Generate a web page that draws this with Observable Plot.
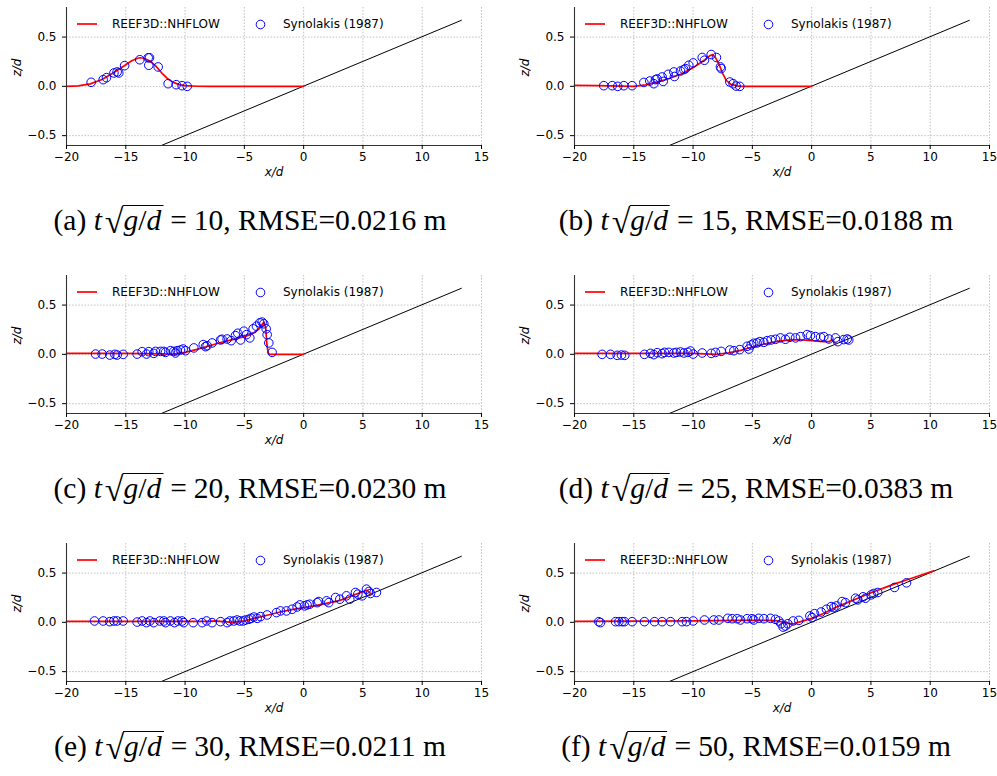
<!DOCTYPE html>
<html>
<head>
<meta charset="utf-8">
<script src="https://cdn.jsdelivr.net/npm/d3@7"></script>
<script src="https://cdn.jsdelivr.net/npm/@observablehq/plot@0.6"></script>
<style>
  body { margin: 0; background: #fff; }
  #root { position: relative; width: 997px; height: 776px; background: #fff; overflow: hidden; }
  .panel { position: absolute; }
  .legend { position: absolute; font-family: "DejaVu Sans", sans-serif; font-size: 12px; color: #000; }
  .caption { position: absolute; transform: translateX(-50%); white-space: nowrap;
    font-family: "Liberation Serif", serif; font-size: 29.5px; line-height: 30px; color: #000; }
  .rad { font-size: 1.15em; position: relative; top: 0.08em; margin-left: 3px; }
  .radicand { display: inline-block; line-height: 0.9em; border-top: 1.3px solid #000; padding: 1px 2px 0 1px; margin-left: -1px; }
  .eq { display: inline-block; margin: 0 7px; }
</style>
</head>
<body>
<div id="root"></div>
<script>
// ---------------- data ----------------
const xTicks = [-20, -15, -10, -5, 0, 5, 10, 15];
const yTicks = [-0.5, 0.0, 0.5];
const beachX = [-12.0, 13.3];
const beachZ = [-0.6, 0.67];

const labels = ["(a)", "(b)", "(c)", "(d)", "(e)", "(f)"];
const times = [10, 15, 20, 25, 30, 50];
const rmse = ["0.0216", "0.0188", "0.0230", "0.0383", "0.0211", "0.0159"];

// panel (a)
const modelA_x = [-20, -19, -18, -17, -16, -15, -14.5, -14, -13.8, -13.5, -13, -12.5, -12, -11.5, -11, -10.5, -10, -9, -8, 0];
const modelA_z = [0.0, 0.005, 0.025, 0.07, 0.14, 0.22, 0.26, 0.285, 0.29, 0.285, 0.26, 0.21, 0.14, 0.08, 0.04, 0.018, 0.007, 0.001, 0.0, 0.0];
const obsA_x = [-17.92, -16.91, -16.63, -16.0, -15.73, -15.59, -15.1, -13.82, -13.11, -13.0, -13.06, -12.27, -11.43, -10.75, -10.25, -9.82];
const obsA_z = [0.041, 0.068, 0.088, 0.136, 0.146, 0.136, 0.21, 0.27, 0.29, 0.29, 0.214, 0.197, 0.027, 0.017, 0.007, 0.0];

// panel (b)
const modelB_x = [-20, -18, -16, -15, -14, -13, -12, -11, -10, -9.5, -9, -8.6, -8.35, -8.1, -7.8, -7.5, -7.2, -6.8, -6.3, -6, 0];
const modelB_z = [0.01, 0.007, 0.003, 0.0, 0.015, 0.045, 0.08, 0.125, 0.19, 0.23, 0.27, 0.31, 0.322, 0.29, 0.22, 0.13, 0.06, 0.02, 0.005, 0.0, 0.0];
const obsB_x = [-17.53, -16.82, -16.35, -15.84, -15.14, -14.15, -13.65, -13.31, -13.17, -13.03, -12.61, -12.52, -12.1, -11.62, -11.57, -11.06, -10.78, -10.64, -10.36, -9.99, -9.23, -9.04, -8.47, -8.03, -7.69, -7.63, -6.9, -6.62, -6.37, -6.06];
const obsB_z = [0.007, 0.007, 0.0, 0.007, 0.007, 0.04, 0.054, 0.027, 0.068, 0.075, 0.095, 0.05, 0.122, 0.146, 0.10, 0.156, 0.17, 0.18, 0.214, 0.238, 0.293, 0.265, 0.323, 0.293, 0.197, 0.18, 0.044, 0.027, 0.003, 0.0];

// panel (c)
const modelC_x = [-20, -15, -12, -11, -10, -9, -8, -7, -6, -5, -4.5, -4, -3.6, -3.35, -3.2, -3.1, -3.0, -2.9, 0];
const modelC_z = [0.01, 0.01, 0.005, 0.003, 0.02, 0.05, 0.085, 0.12, 0.15, 0.18, 0.2, 0.235, 0.29, 0.327, 0.27, 0.1, 0.02, 0.0, 0.0];
const obsC_x = [-17.55, -16.99, -16.35, -15.92, -15.73, -15.22, -14.04, -13.62, -13.25, -13.06, -12.64, -12.5, -12.07, -11.79, -11.65, -11.23, -10.95, -10.81, -10.67, -10.39, -10.16, -9.96, -9.26, -8.47, -8.28, -8.14, -7.72, -7.01, -6.88, -6.45, -6.11, -5.75, -5.55, -5.32, -5.04, -4.82, -4.54, -4.26, -3.98, -3.7, -3.5, -3.36, -3.16, -3.08, -2.94, -2.66];
const obsC_z = [0.003, 0.003, -0.007, 0.0, -0.007, 0.0, 0.003, 0.027, 0.003, 0.027, 0.01, 0.03, 0.03, 0.03, 0.02, 0.037, 0.03, 0.014, 0.037, 0.044, 0.054, 0.037, 0.065, 0.099, 0.078, 0.088, 0.116, 0.146, 0.153, 0.156, 0.139, 0.19, 0.214, 0.146, 0.235, 0.2, 0.167, 0.259, 0.286, 0.32, 0.327, 0.31, 0.259, 0.2, 0.116, 0.02];

// panel (d)
const modelD_x = [-20, -10, -9, -8, -7, -6, -5, -4, -3, -2, -1, 0, 1, 1.5, 1.7, 1.9, 2.1];
const modelD_z = [0.01, 0.01, 0.005, 0.0, 0.015, 0.04, 0.075, 0.105, 0.13, 0.145, 0.15, 0.14, 0.13, 0.13, 0.15, 0.12, 0.11];
const obsD_x = [-17.67, -16.96, -16.4, -16.04, -15.76, -14.1, -13.59, -13.31, -13.03, -12.61, -12.41, -12.04, -11.62, -11.4, -11.06, -10.78, -10.44, -10.22, -9.99, -9.23, -8.47, -8.11, -7.63, -6.9, -6.56, -6.06, -5.44, -5.3, -5.1, -4.88, -4.6, -4.37, -4.03, -3.75, -3.42, -3.05, -2.63, -2.21, -1.84, -1.36, -0.94, -0.38, -0.1, 0.32, 0.75, 1.03, 1.45, 2.01, 2.21, 2.71, 3.0, 3.13];
const obsD_z = [0.0, 0.0, -0.01, -0.007, -0.01, 0.0, 0.01, -0.003, 0.017, 0.007, 0.02, 0.02, 0.014, 0.02, 0.024, 0.014, 0.02, 0.034, 0.003, 0.014, 0.01, 0.02, 0.03, 0.044, 0.037, 0.048, 0.082, 0.054, 0.095, 0.112, 0.116, 0.129, 0.122, 0.139, 0.146, 0.153, 0.167, 0.153, 0.173, 0.167, 0.18, 0.2, 0.19, 0.18, 0.173, 0.18, 0.156, 0.167, 0.129, 0.15, 0.156, 0.146];

// panel (e)
const modelE_x = [-20, -8, -7.5, -7, -6, -5, -4, -3, -2, -1, 0, 1, 2, 3, 4, 4.5, 5, 5.35, 5.64];
const modelE_z = [0.01, 0.01, 0.015, 0.01, 0.0, 0.015, 0.045, 0.075, 0.105, 0.13, 0.15, 0.17, 0.195, 0.22, 0.265, 0.29, 0.31, 0.328, 0.293];
const obsE_x = [-17.64, -16.91, -16.35, -16.0, -15.73, -15.22, -14.04, -13.62, -13.25, -12.97, -12.64, -12.13, -11.79, -11.65, -11.23, -10.89, -10.61, -10.25, -10.11, -9.32, -8.56, -8.19, -7.72, -7.01, -6.45, -6.23, -5.89, -5.61, -5.38, -5.1, -4.9, -4.62, -4.43, -4.2, -3.92, -3.64, -3.08, -2.29, -1.95, -1.45, -0.97, -0.55, -0.32, 0.07, 0.29, 0.51, 1.14, 1.28, 1.93, 2.12, 2.69, 3.05, 3.61, 3.89, 4.37, 4.57, 4.93, 5.3, 5.5, 5.64, 6.14];
const obsE_z = [0.014, 0.014, 0.007, 0.014, 0.014, 0.014, 0.003, 0.014, -0.003, 0.014, -0.003, 0.014, 0.014, -0.003, 0.014, -0.003, 0.014, 0.014, -0.003, -0.003, -0.003, 0.014, -0.003, 0.007, -0.003, 0.014, 0.014, 0.024, 0.014, 0.014, 0.024, 0.031, 0.041, 0.054, 0.041, 0.058, 0.075, 0.099, 0.116, 0.116, 0.133, 0.156, 0.177, 0.167, 0.177, 0.184, 0.2, 0.211, 0.218, 0.2, 0.252, 0.235, 0.269, 0.235, 0.303, 0.286, 0.269, 0.337, 0.313, 0.293, 0.303];

// panel (f)
const modelF_x = [-20, -10, -6, -4, -3, -2.5, -2, -1.5, -1, 0, 1, 2, 3, 4, 5, 6, 7, 8, 9, 10.3];
const modelF_z = [0.01, 0.015, 0.02, 0.02, 0.018, 0.005, -0.01, -0.015, 0.005, 0.04, 0.09, 0.15, 0.2, 0.25, 0.3, 0.345, 0.39, 0.43, 0.47, 0.522];
const obsF_x = [-17.95, -17.81, -16.54, -16.26, -15.98, -15.78, -15.14, -14.1, -13.25, -12.61, -11.9, -10.92, -10.56, -9.99, -9.04, -8.25, -7.83, -7.07, -6.7, -6.28, -6.0, -5.44, -5.02, -4.88, -4.46, -4.03, -3.47, -3.05, -2.77, -2.57, -2.4, -2.21, -2.01, -1.56, -1.08, -0.15, 0.04, 0.24, 0.8, 1.25, 1.65, 1.87, 2.1, 2.57, 2.85, 3.7, 3.89, 4.34, 4.54, 5.02, 5.24, 5.58, 6.99, 8.0];
const obsF_z = [0.007, -0.003, 0.007, 0.007, 0.007, 0.007, 0.007, 0.007, 0.007, 0.007, 0.007, 0.007, 0.007, 0.014, 0.024, 0.024, 0.024, 0.041, 0.037, 0.037, 0.024, 0.037, 0.037, 0.024, 0.041, 0.037, 0.041, 0.031, 0.014, -0.014, -0.048, -0.037, -0.014, 0.014, 0.02, 0.065, 0.048, 0.088, 0.105, 0.133, 0.16, 0.15, 0.167, 0.211, 0.2, 0.245, 0.228, 0.259, 0.245, 0.279, 0.293, 0.303, 0.354, 0.401];

const models = [[modelA_x, modelA_z], [modelB_x, modelB_z], [modelC_x, modelC_z], [modelD_x, modelD_z], [modelE_x, modelE_z], [modelF_x, modelF_z]];
const observed = [[obsA_x, obsA_z], [obsB_x, obsB_z], [obsC_x, obsC_z], [obsD_x, obsD_z], [obsE_x, obsE_z], [obsF_x, obsF_z]];

// ---------------- layout ----------------
const root = document.getElementById("root");
const colLeft = [0, 508];
const rowTop = [0, 268, 536];
const capCenter = [250, 756];
const capTop = [204, 472, 730];

const zip = (xs, zs) => xs.map((x, i) => ({x, z: zs[i]}));
const beach = zip(beachX, beachZ);
const grid = {stroke: "#b0b0b0", strokeOpacity: 1, strokeWidth: 0.8, strokeDasharray: "1.5,1.6"};

for (let i = 0; i < 6; i++) {
  const col = i % 2, row = Math.floor(i / 2);
  const model = zip(models[i][0], models[i][1]);
  const obs = zip(observed[i][0], observed[i][1]);
  const chart = Plot.plot({
    width: 489, height: 185,
    marginLeft: 66, marginRight: 8, marginTop: 7, marginBottom: 40,
    style: {fontFamily: "DejaVu Sans, sans-serif", fontSize: "12px", background: "transparent", color: "#000"},
    x: {domain: [-20, 15]},
    y: {domain: [-0.6, 0.8]},
    marks: [
      Plot.gridX(xTicks.slice(1), grid),
      Plot.gridY(yTicks, grid),
      Plot.line(beach, {x: "x", y: "z", stroke: "#000", strokeWidth: 1}),
      Plot.line(model, {x: "x", y: "z", stroke: "#ff0000", strokeWidth: 1.7}),
      Plot.dot(obs, {x: "x", y: "z", r: 4.3, stroke: "#0000ff", strokeWidth: 1, fill: "none"}),
      Plot.ruleX([-20], {stroke: "#333", strokeWidth: 1.1}),
      Plot.ruleY([-0.6], {stroke: "#333", strokeWidth: 1.1}),
      Plot.axisX({ticks: xTicks, tickFormat: d3.format("d"), tickSize: 4, tickPadding: 3, fontSize: 12, label: null}),
      Plot.axisY({ticks: yTicks, tickFormat: d3.format(".1f"), tickSize: 4, tickPadding: 6, fontSize: 12, label: null}),
      Plot.text(["x/d"], {frameAnchor: "bottom", dy: 30, fontStyle: "italic", fontSize: 12}),
      Plot.text(["z/d"], {frameAnchor: "left", dx: -49, rotate: -90, fontStyle: "italic", fontSize: 12})
    ]
  });
  const panel = document.createElement("div");
  panel.className = "panel";
  panel.style.left = colLeft[col] + "px";
  panel.style.top = rowTop[row] + "px";
  panel.appendChild(chart);
  root.appendChild(panel);

  // legend (HTML overlay inside the plot frame)
  const lg = document.createElement("div");
  lg.className = "legend";
  lg.style.left = colLeft[col] + "px";
  lg.style.top = rowTop[row] + "px";
  lg.innerHTML = `<svg width="400" height="40" style="position:absolute;left:0;top:0;overflow:visible">
      <line x1="77" x2="97" y1="24" y2="24" stroke="#ff0000" stroke-width="1.7"></line>
      <text x="112" y="28.3" font-family="DejaVu Sans" font-size="12">REEF3D::NHFLOW</text>
      <circle cx="260.5" cy="24.5" r="4.3" fill="none" stroke="#0000ff" stroke-width="1"></circle>
      <text x="283" y="28.3" font-family="DejaVu Sans" font-size="12">Synolakis (1987)</text>
    </svg>`;
  root.appendChild(lg);

  // caption
  const cap = document.createElement("div");
  cap.className = "caption";
  cap.style.left = capCenter[col] + "px";
  cap.style.top = capTop[row] + "px";
  cap.innerHTML = `${labels[i]} <i>t</i><span class="rad">√</span><span class="radicand"><i>g</i>/<i>d</i></span><span class="eq">=</span>${times[i]}, RMSE=${rmse[i]} m`;
  root.appendChild(cap);
}
</script>
</body>
</html>
